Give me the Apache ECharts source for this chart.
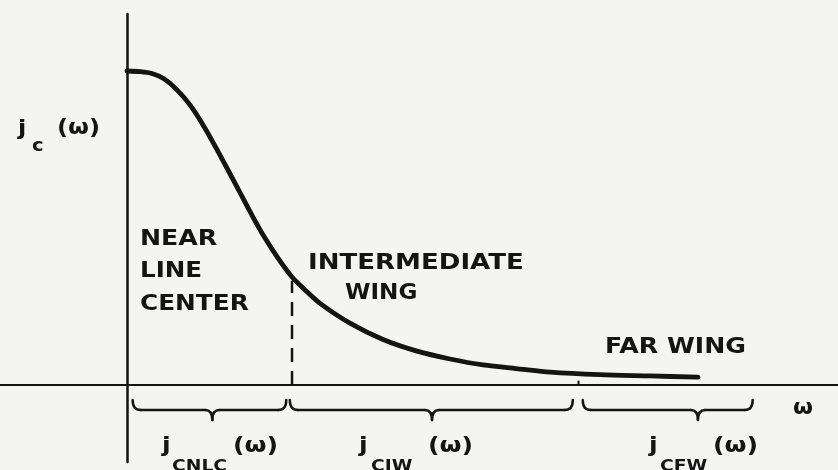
<!DOCTYPE html>
<html>
<head>
<meta charset="UTF-8">
<title>j_c(omega) line regions</title>
<script src="https://cdn.jsdelivr.net/npm/echarts@6/dist/echarts.min.js"></script>
<style>
	html, body { margin: 0; padding: 0; background: #f4f4f2; }
</style>
</head>
<body>
	<div id="container" style="width:838px;height:470px;"></div>
	<script type="text/javascript">
	// curve (omega in arbitrary units, j_c normalised to the peak)
	var omega = [0, 0.183, 0.352, 0.520, 0.689, 0.886, 1.097, 1.308, 1.547, 1.772, 1.941, 2.124, 2.321,
	             2.504, 2.715, 3.136, 3.601, 4.079, 4.543, 5.007, 5.527, 5.949, 6.653, 7.356, 8.031];
	var jc = [1.000, 0.998, 0.992, 0.975, 0.943, 0.892, 0.818, 0.732, 0.631, 0.535, 0.468, 0.404, 0.344,
	          0.303, 0.260, 0.197, 0.145, 0.108, 0.083, 0.064, 0.051, 0.041, 0.033, 0.029, 0.025];

	var nlcEdge = 2.321;    // near line centre / intermediate wing
	var fwEdge = 6.35;      // intermediate wing / far wing

	// brace spans under the axis: start, end and tip
	var braceStart = [0.08, 2.29, 6.41];
	var braceEnd = [2.24, 6.27, 8.80];
	var braceTip = [1.20, 4.29, 8.03];

	var curveData = [];
	for (var i = 0; i < omega.length; i++) {
		curveData.push([omega[i], jc[i]]);
	}
	var braceData = [];
	for (var k = 0; k < braceStart.length; k++) {
		braceData.push([braceStart[k], braceEnd[k], braceTip[k]]);
	}
	var jcAtEdge = jc[omega.indexOf(nlcEdge)] - 0.012;

	var ink = '#141414';
	var fontMain = 'bold 21px "DejaVu Sans"';
	var fontBig = 'bold 22px "DejaVu Sans"';
	var fontSub = 'bold 16px "DejaVu Sans"';

	function txt(x, y, s, font, sx) {
		return {
			type: 'text', x: x, y: y, scaleX: sx || 1.15,
			style: {
				text: s, font: font || fontMain, fill: ink,
				align: 'left', textAlign: 'left',
				verticalAlign: 'middle', textVerticalAlign: 'middle'
			}
		};
	}

	function renderBrace(params, api) {
		var a = api.coord([api.value(0), 0]);
		var b = api.coord([api.value(1), 0]);
		var t = api.coord([api.value(2), 0]);
		var y0 = a[1] + 15, y1 = a[1] + 25, y2 = a[1] + 35;
		var st = { stroke: ink, lineWidth: 2.5, fill: null, lineCap: 'round' };
		return {
			type: 'group',
			children: [
				{ type: 'bezierCurve', shape: { x1: a[0], y1: y0, cpx1: a[0], cpy1: y1, x2: a[0] + 8, y2: y1 }, style: st },
				{ type: 'line', shape: { x1: a[0] + 8, y1: y1, x2: t[0] - 7, y2: y1 }, style: st },
				{ type: 'bezierCurve', shape: { x1: t[0] - 7, y1: y1, cpx1: t[0], cpy1: y1, x2: t[0], y2: y2 }, style: st },
				{ type: 'bezierCurve', shape: { x1: t[0], y1: y2, cpx1: t[0], cpy1: y1, x2: t[0] + 7, y2: y1 }, style: st },
				{ type: 'line', shape: { x1: t[0] + 7, y1: y1, x2: b[0] - 8, y2: y1 }, style: st },
				{ type: 'bezierCurve', shape: { x1: b[0] - 8, y1: y1, cpx1: b[0], cpy1: y1, x2: b[0], y2: y0 }, style: st }
			]
		};
	}

	var dom = document.getElementById("container");
	var myChart = echarts.init(dom, null, { renderer: 'canvas' });

	var option = {
		backgroundColor: '#f4f4f2',
		animation: false,
		grid: { left: 0, right: 0, top: 14, bottom: 8 },
		xAxis: {
			type: 'value', min: -1.786, max: 10,
			axisLine: { onZero: true, lineStyle: { color: ink, width: 2 } },
			axisTick: { show: false }, axisLabel: { show: false }, splitLine: { show: false }
		},
		yAxis: {
			type: 'value', min: -0.245, max: 1.1815,
			axisLine: { onZero: true, lineStyle: { color: ink, width: 2.5 } },
			axisTick: { show: false }, axisLabel: { show: false }, splitLine: { show: false }
		},
		series: [
			{
				type: 'line', data: curveData, smooth: 0.3, symbol: 'none',
				lineStyle: { color: ink, width: 4.8, cap: 'round', join: 'round' }, z: 5
			},
			{
				type: 'line', data: [[nlcEdge, 0], [nlcEdge, jcAtEdge]], symbol: 'none',
				lineStyle: { color: ink, width: 2.5, type: [14, 9] }, z: 4
			},
			{
				type: 'line', data: [[fwEdge, 0], [fwEdge, 0.014]], symbol: 'none',
				lineStyle: { color: ink, width: 2 }, z: 4
			},
			{
				type: 'custom', data: braceData, renderItem: renderBrace, clip: false, z: 4
			}
		],
		graphic: [
			txt(18, 130, 'j'),
			txt(32, 147, 'c', 'bold 17px "DejaVu Sans"'),
			txt(57, 129, '(ω)'),
			txt(140, 240, 'NEAR', fontMain, 1.2),
			txt(140, 272, 'LINE', fontMain, 1.17),
			txt(140, 305, 'CENTER', fontMain, 1.18),
			txt(308, 264, 'INTERMEDIATE', fontMain, 1.24),
			txt(345, 294, 'WING', fontMain, 1.1),
			txt(605, 348, 'FAR WING', fontMain, 1.2),
			txt(793, 409, 'ω', fontMain, 1.1),
			txt(162, 446, 'j', fontBig),
			txt(172, 467, 'CNLC', fontSub, 1.17),
			txt(233, 446, '(ω)', fontBig),
			txt(359, 446, 'j', fontBig),
			txt(371, 467, 'CIW', fontSub, 1.17),
			txt(428, 446, '(ω)', fontBig),
			txt(649, 446, 'j', fontBig),
			txt(660, 467, 'CFW', fontSub, 1.17),
			txt(713, 446, '(ω)', fontBig)
		]
	};

	myChart.setOption(option);
	</script>
</body>
</html>
